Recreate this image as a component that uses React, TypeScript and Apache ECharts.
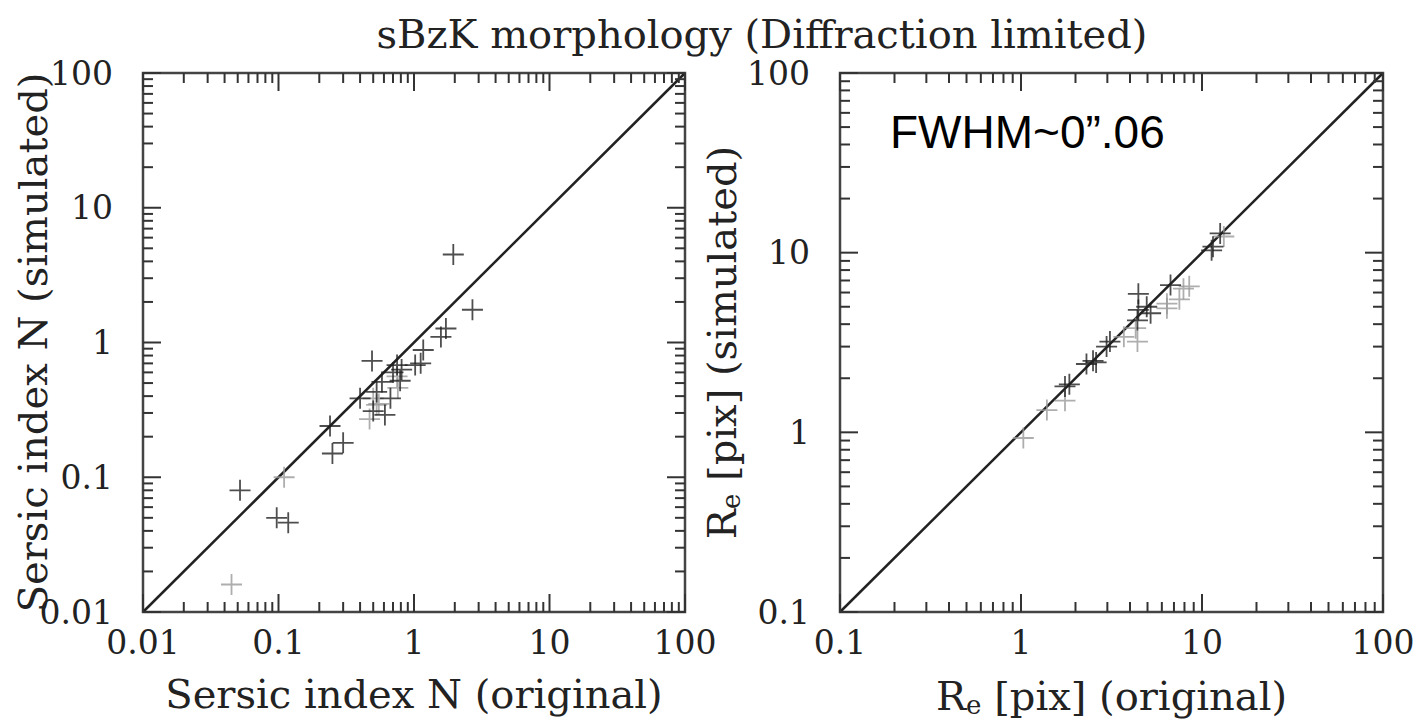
import React, { useEffect, useRef } from "react";
import * as echarts from "echarts";

// ---------------- data ----------------
const TITLE = "sBzK morphology (Diffraction limited)";
const NOTE = "FWHM~0\u201d.06";

// Left panel: Sersic index N (original, simulated)
const N_DARK: [number, number][] = [
  [1.95, 4.5], [2.7, 1.75], [1.72, 1.27], [1.58, 1.1], [1.17, 0.88],
  [1.12, 0.7], [1.02, 0.68], [0.49, 0.73], [0.75, 0.68], [0.7, 0.6],
  [0.81, 0.63], [0.79, 0.52], [0.58, 0.51], [0.53, 0.43], [0.4, 0.385],
  [0.67, 0.385], [0.5, 0.31], [0.61, 0.29], [0.3, 0.18], [0.25, 0.15],
  [0.052, 0.08], [0.097, 0.05], [0.118, 0.046], [0.24, 0.24],
];
const N_LIGHT: [number, number][] = [
  [0.11, 0.1], [0.76, 0.46], [0.5, 0.385], [0.53, 0.345],
  [0.47, 0.27], [0.75, 0.56], [0.55, 0.35], [0.045, 0.016],
];

// Right panel: Re [pix] (original, simulated)
const RE_DARK: [number, number][] = [
  [1.75, 1.8], [1.85, 1.85], [2.3, 2.4], [2.5, 2.5], [2.6, 2.45],
  [2.97, 3.0], [3.1, 3.2], [4.45, 5.9], [6.7, 6.6], [4.95, 5.0],
  [4.45, 4.8], [5.2, 4.6], [4.4, 4.2], [11.3, 10.3], [11.5, 10.8], [12.6, 12.8],
];
const RE_LIGHT: [number, number][] = [
  [1.03, 0.93], [1.39, 1.33], [1.75, 1.5], [3.7, 3.4], [4.3, 3.8],
  [4.4, 3.2], [7.9, 6.3], [7.5, 5.5], [6.4, 5.2], [6.4, 4.9],
  [13.2, 12.3], [8.5, 6.5],
];

// one-to-one lines
const ONE_TO_ONE_N: [number, number][] = [[0.01, 0.01], [100, 100]];
const ONE_TO_ONE_RE: [number, number][] = [[0.1, 0.1], [100, 100]];

// axis ranges / ticks
const N_RANGE = [0.01, 100];
const RE_RANGE = [0.1, 100];
const N_DECADES = [0.01, 0.1, 1, 10, 100];
const RE_DECADES = [0.1, 1, 10, 100];
const MINOR_STEPS = [2, 3, 4, 5, 6, 7, 8, 9];

const X_NAME_N = "Sersic index N (original)";
const Y_NAME_N = "Sersic index N (simulated)";
const X_NAME_RE = "R{sub|e} [pix] (original)";
const Y_NAME_RE = "R{sub|e} [pix] (simulated)";

// ---------------- styles ----------------
const SERIF = "DejaVu Serif";
const INK = "#222";
const LIGHT = "#9a9a9a";
const MAJOR_LEN = 18;
const MINOR_LEN = 10;
const PLUS = "path://M0,10 L20,10 M10,0 L10,20";

function tickData(decades: number[], range: number[]) {
  const out: number[][] = [];
  decades.forEach((d, i) => {
    out.push([d, range[0], 0, MAJOR_LEN]);
    out.push([range[0], d, 1, MAJOR_LEN]);
    if (i < decades.length - 1) {
      MINOR_STEPS.forEach((m) => {
        const v = d * m;
        out.push([v, range[0], 0, MINOR_LEN]);
        out.push([range[0], v, 1, MINOR_LEN]);
      });
    }
  });
  return out;
}

function tickSeries(idx: number, decades: number[], range: number[]) {
  const [lo, hi] = range;
  return {
    type: "custom",
    xAxisIndex: idx,
    yAxisIndex: idx,
    silent: true,
    z: 5,
    data: tickData(decades, range),
    renderItem: (_p: any, api: any) => {
      const o = api.value(2);
      const len = api.value(3);
      const st = { stroke: "#333", lineWidth: 2 };
      if (o === 0) {
        const v = api.value(0);
        const b = api.coord([v, lo]);
        const t = api.coord([v, hi]);
        return {
          type: "group",
          children: [
            { type: "line", shape: { x1: b[0], y1: b[1], x2: b[0], y2: b[1] - len }, style: st },
            { type: "line", shape: { x1: t[0], y1: t[1], x2: t[0], y2: t[1] + len }, style: st },
          ],
        };
      }
      const v = api.value(1);
      const l = api.coord([lo, v]);
      const r = api.coord([hi, v]);
      return {
        type: "group",
        children: [
          { type: "line", shape: { x1: l[0], y1: l[1], x2: l[0] + len, y2: l[1] }, style: st },
          { type: "line", shape: { x1: r[0], y1: r[1], x2: r[0] - len, y2: r[1] }, style: st },
        ],
      };
    },
  };
}

const fmt = (v: number) => String(Number(v.toPrecision(3)));

function logAxis(idx: number, range: number[], isX: boolean, name: string, gap: number) {
  return {
    type: "log",
    logBase: 10,
    gridIndex: idx,
    min: range[0],
    max: range[1],
    axisLine: { show: false },
    axisTick: { show: false },
    splitLine: { show: false },
    axisLabel: {
      fontFamily: SERIF,
      fontSize: 33,
      color: INK,
      margin: isX ? 14 : 30,
      showMinLabel: true,
      showMaxLabel: true,
      formatter: fmt,
    },
    name,
    nameLocation: "middle",
    nameGap: gap,
    nameMoveOverlap: false,
    nameTextStyle: {
      fontFamily: SERIF,
      fontSize: 40,
      color: INK,
      rich: { sub: { fontFamily: SERIF, fontSize: 26, color: INK, padding: [18, 0, 0, 0] } },
    },
  };
}

function scatter(idx: number, data: [number, number][], color: string, z: number) {
  return {
    type: "scatter",
    xAxisIndex: idx,
    yAxisIndex: idx,
    data,
    symbol: PLUS,
    symbolSize: 21,
    z,
    itemStyle: { color: "rgba(0,0,0,0)", borderColor: color, borderWidth: 1.8 },
  };
}

function diag(idx: number, data: [number, number][]) {
  return {
    type: "line",
    xAxisIndex: idx,
    yAxisIndex: idx,
    data,
    symbol: "none",
    z: 3,
    lineStyle: { color: INK, width: 2.5 },
  };
}

export default function App() {
  const ref = useRef<HTMLDivElement>(null);
  useEffect(() => {
    if (!ref.current) return;
    const chart = echarts.init(ref.current, null, { renderer: "svg" });
    chart.setOption({
      animation: false,
      backgroundColor: "#fff",
      textStyle: { fontFamily: SERIF },
      grid: [
        { left: 143, top: 73, width: 542, height: 539, show: true, borderColor: "#444", borderWidth: 2.5 },
        { left: 840, top: 73, width: 543, height: 539, show: true, borderColor: "#444", borderWidth: 2.5 },
      ],
      xAxis: [
        logAxis(0, N_RANGE, true, X_NAME_N, 62),
        logAxis(1, RE_RANGE, true, X_NAME_RE, 62),
      ],
      yAxis: [
        logAxis(0, N_RANGE, false, Y_NAME_N, 90),
        logAxis(1, RE_RANGE, false, Y_NAME_RE, 96),
      ],
      graphic: [
        {
          type: "text",
          x: 762,
          y: 34,
          style: { text: TITLE, fontFamily: SERIF, fontSize: 40, fill: INK, align: "center", verticalAlign: "middle" },
        },
        {
          type: "text",
          x: 890,
          y: 132,
          style: { text: NOTE, fontFamily: "Liberation Sans", fontSize: 46, fill: "#000", align: "left", verticalAlign: "middle" },
        },
      ],
      series: [
        tickSeries(0, N_DECADES, N_RANGE),
        tickSeries(1, RE_DECADES, RE_RANGE),
        diag(0, ONE_TO_ONE_N),
        diag(1, ONE_TO_ONE_RE),
        scatter(0, N_LIGHT, LIGHT, 4),
        scatter(0, N_DARK, INK, 6),
        scatter(1, RE_LIGHT, LIGHT, 4),
        scatter(1, RE_DARK, INK, 6),
      ],
    });
    return () => chart.dispose();
  }, []);
  return (
    <div
      ref={ref}
      style={{ position: "absolute", left: 0, top: 0, width: 1418, height: 724 }}
    />
  );
}
